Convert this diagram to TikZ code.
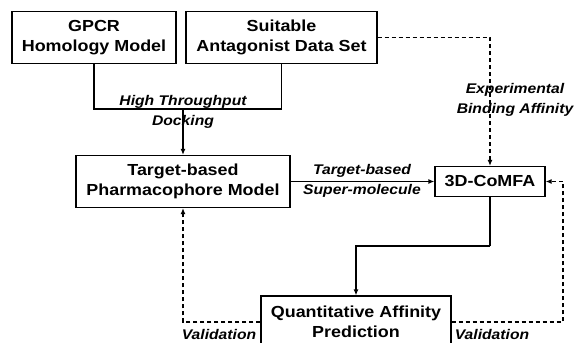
\documentclass[tikz,border=0pt]{standalone}
\usepackage{fontspec}
\setmainfont{Liberation Sans}[FakeStretch=1.12]
\usepackage{tikz}
\usetikzlibrary{arrows.meta}

\begin{document}
\begin{tikzpicture}[x=1pt,y=-1pt]
            \tikzstyle{box}=[draw=black,line width=1.2pt,fill=white,align=center,inner sep=0pt,font=\fontsize{16}{20}\selectfont\bfseries]
            \tikzstyle{edge}=[draw=black,line width=1.2pt,-]
            \tikzstyle{arrow}=[edge,-{Latex[length=6pt,width=5pt]}]
            \tikzstyle{dashedge}=[edge,dash pattern=on 4pt off 3pt]
            \tikzstyle{dasharrow}=[dashedge,-{Latex[length=6pt,width=5pt]}]
            \tikzstyle{label}=[align=center,inner sep=0pt,font=\fontsize{14}{20}\selectfont\bfseries\itshape]

            \useasboundingbox (0,0) rectangle (579,343);

            \def\h{52}

            \node[box,minimum width=164pt,minimum height=\h pt] (gpcr) at (94,37.5) {GPCR\\Homology Model};
            \node[box,minimum width=191pt,minimum height=\h pt] (ligands) at (281.5,37.5) {Suitable\\Antagonist Data Set};
            \node[box,minimum width=214pt,minimum height=\h pt] (pharm) at (183,181.5) {Target-based\\Pharmacophore Model};
            \node[box,minimum width=110pt,minimum height=30pt] (comfa) at (490,181.5) {3D-CoMFA};
            \begin{scope}
                \clip (0,0) rectangle (579,343);
                \node[box,minimum width=190pt,minimum height=\h pt] (quant) at (356,322) {Quantitative Affinity\\Prediction};
            \end{scope}

            \coordinate (dock) at (183,109);
            \coordinate (turn) at (490,246);
            \coordinate (back) at (563,250);

            % docking
            \path[edge] (gpcr.south) |- (dock) -| (ligands.south);
            \path[arrow] (dock) -- (pharm.north);
            \node[label] (ldock) at (183,112) {High Throughput\\Docking};

            % super-molecule
            \path[arrow] (pharm.east) -- (comfa.west);
            \node[label] (lsuper) at (362,181) {Target-based\\Super-molecule};

            % binding affinity
            \path[dasharrow] (ligands.east) -| (comfa.north);
            \node[label] (lexp) at (515,100) {Experimental\\Binding Affinity};

            % prediction
            \path[edge] (comfa.south) -- (turn);
            \path[arrow] (turn) -| (quant.north);

            % validation
            \path[dasharrow] (quant.west) -| (pharm.south);
            \path[dasharrow] (quant.east) -| (back) |- (comfa.east);
            \node[label] (lval1) at (219,334) {Validation};
            \node[label] (lval2) at (492,334) {Validation};
        \end{tikzpicture}
\end{document}
